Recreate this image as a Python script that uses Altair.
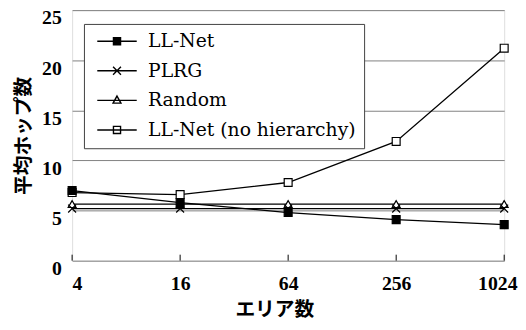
import altair as alt
import pandas as pd

areas = ["4", "16", "64", "256", "1024"]
series_names = ["LL-Net", "PLRG", "Random", "LL-Net (no hierarchy)"]
ll_net = [7.0, 5.8, 4.8, 4.1, 3.6]
plrg = [5.2, 5.2, 5.2, 5.2, 5.2]
random_ = [5.65, 5.65, 5.65, 5.65, 5.65]
no_hier = [6.8, 6.6, 7.8, 11.9, 21.2]
y_ticks = [0, 5, 10, 15, 20, 25]

rows = []
# reversed so that LL-Net markers are drawn on top
for name, vals in reversed(list(zip(series_names, [ll_net, plrg, random_, no_hier]))):
    for a, v in zip(areas, vals):
        rows.append({"area": a, "hops": v, "series": name, "label": name})
df = pd.DataFrame(rows)
ticks_df = pd.DataFrame({"area": areas})

SERIF = "Liberation Serif, Times New Roman, serif"
CJK = "Noto Sans CJK JP, sans-serif"

plot_shapes = ["square", "M-1,-1L1,1M-1,1L1,-1", "triangle-up", "square"]
plot_fills = ["black", "transparent", "white", "white"]
legend_shapes = [
    "M-1,0H9M3.1,-0.9H4.9V0.9H3.1Z",
    "M-1,0H9M3,-1L5,1M3,1L5,-1",
    "M-1,0H9M4,-1.1L5,0.7H3Z",
    "M-1,0H9M3.1,-0.9H4.9V0.9H3.1Z",
]
legend_fills = ["black", "transparent", "transparent", "transparent"]
legend_strokes = ["black", "black", "black", "black"]

x_scale = alt.Scale(type="point", domain=areas, padding=0)

x_enc = alt.X(
    "area:N",
    sort=areas,
    scale=x_scale,
    axis=alt.Axis(
        title="エリア数",
        labelFont=SERIF,
        labelFontWeight="bold",
        labelFontSize=20,
        labelColor="black",
        labelAngle=0,
        labelBaseline="alphabetic",
        labelPadding=29,
        labelFlush=False,
        labelAlign={"condition": {"test": "datum.value == '4'", "value": "left"}, "value": "center"},
        labelOffset={"condition": {"test": "datum.value == '1024'", "value": -7}, "value": 0},
        ticks=False,
        tickSize=0,
        domain=False,
        grid=False,
        titleFont=CJK,
        titleFontSize=20,
        titleFontWeight="bold",
        titleColor="black",
        titleX=205,
        titleY=50,
        titleBaseline="middle",
    ),
)
y_enc = alt.Y(
    "hops:Q",
    scale=alt.Scale(domain=[0, 25], nice=False),
    axis=alt.Axis(
        values=y_ticks,
        title="平均ホップ数",
        labelFont=SERIF,
        labelFontWeight="bold",
        labelFontSize=20,
        labelColor="black",
        labelBaseline="alphabetic",
        labelOffset=14,
        labelPadding=11,
        ticks=False,
        tickSize=0,
        domain=False,
        grid=True,
        gridColor="#808080",
        gridWidth=1,
        titleFont=CJK,
        titleFontSize=20,
        titleFontWeight="bold",
        titleColor="black",
        titleAngle=270,
        titleX=-49,
        titleY=127,
        titleBaseline="middle",
    ),
)

base = alt.Chart(df)

lines = base.mark_line(color="black", strokeWidth=1.3).encode(
    x=x_enc, y=y_enc, detail="series:N"
)

points = base.mark_point(stroke="black", strokeWidth=1.2, size=64, opacity=1).encode(
    x=x_enc,
    y=y_enc,
    shape=alt.Shape("series:N", scale=alt.Scale(domain=series_names, range=plot_shapes), legend=None),
    fill=alt.Fill("series:N", scale=alt.Scale(domain=series_names, range=plot_fills), legend=None),
)

leg = alt.Legend(
    title=None,
    orient="none",
    legendX=12,
    legendY=14,
    symbolSize=64,
    symbolStrokeWidth=1.4,
    symbolOpacity=1,
    labelFont="DejaVu Serif, serif",
    labelFontSize=19,
    labelColor="black",
    labelOffset=38,
    padding=8,
    rowPadding=10,
    strokeColor="#404040",
    fillColor="white",
    labelLimit=400,
)

legend_layer = base.transform_filter("false").mark_point(size=64, opacity=1, strokeWidth=1.4).encode(
    x=x_enc,
    y=y_enc,
    shape=alt.Shape("label:N", scale=alt.Scale(domain=series_names, range=legend_shapes), legend=leg),
    fill=alt.Fill("label:N", scale=alt.Scale(domain=series_names, range=legend_fills), legend=leg),
    stroke=alt.Stroke("label:N", scale=alt.Scale(domain=series_names, range=legend_strokes), legend=leg),
)

tick_rules = alt.Chart(ticks_df).mark_rule(color="black", strokeWidth=1).encode(
    x=alt.X("area:N", sort=areas, scale=x_scale),
    y=alt.datum(0),
    y2=alt.datum(0.6),
)

chart = (
    alt.layer(tick_rules, lines, points, legend_layer)
    .resolve_scale(shape="independent", fill="independent", stroke="independent")
    .properties(
        width=438,
        height=254,
        autosize="none",
        padding={"left": 65, "top": 0, "right": 14, "bottom": 60},
    )
    .configure_view(stroke="black", strokeWidth=1.5)
    .configure(background="white")
)

chart.save("out.html", embed_options={"renderer": "svg", "actions": False})
